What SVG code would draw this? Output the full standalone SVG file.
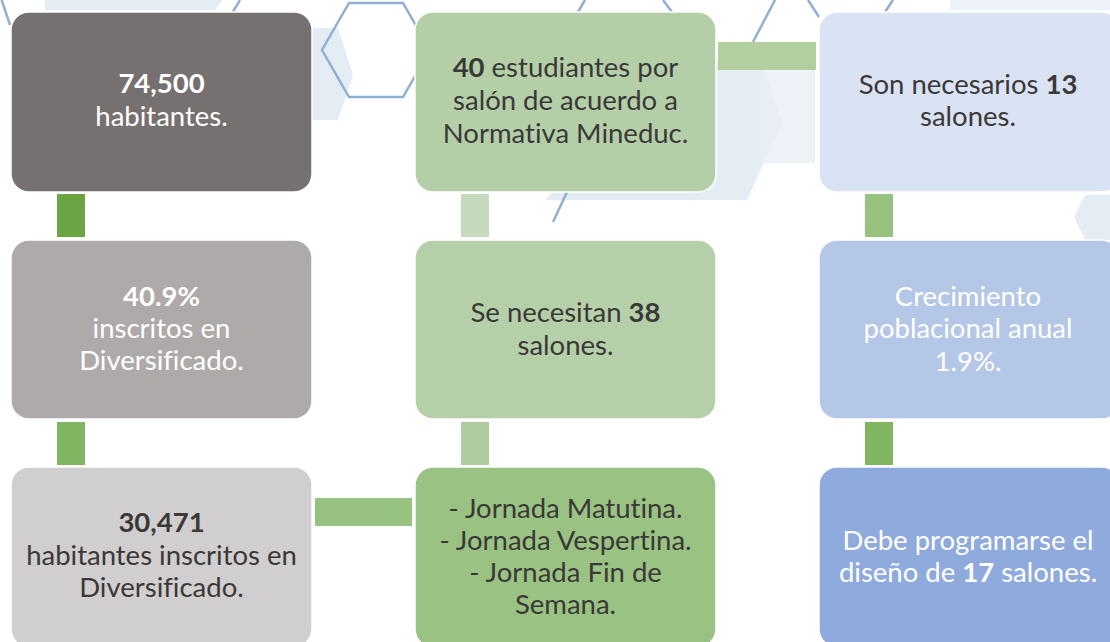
<svg xmlns="http://www.w3.org/2000/svg" width="1110" height="642" viewBox="0 0 1110 642">
<style>
.bg{fill:#ffffff}
.hf{fill:#d9e4f0;opacity:0.7}
.hf2{fill:#e8eef6;opacity:0.8}
.ho{fill:none;stroke:#8fb0d4;stroke-width:2.5}
.box{stroke:#ffffff;stroke-width:1.5}
.t{font-family:Lato,"Open Sans","Liberation Sans",sans-serif;font-size:27.5px;text-anchor:middle;font-variant-ligatures:none;font-feature-settings:"liga" 0,"clig" 0}
.w{fill:#ffffff}
.d{fill:#3b3838}
.b{font-weight:bold}
</style>
<rect class="bg" x="0" y="0" width="1110" height="642"/>
<g id="background">
  <polygon class="hf" points="45,-40 215,-40 230,-10 215,10 45,10"/>
  <polygon class="hf" points="300,28 338,28 353,75 338,120 300,120"/>
  <polygon class="hf" points="700,60 760,60 782,123 747,200 545,200 620,123"/>
  <polygon class="hf2" points="760,70 815,70 815,163 760,163"/>
  <polygon class="hf2" points="950,-20 1110,-20 1110,10 950,10"/>
  <polygon class="hf" points="1085,195 1110,195 1110,240 1085,240 1074,217"/>
  <polygon class="ho" points="349,3 403,3 430,50 403,97 349,97 322,50"/>
  <polyline class="ho" points="0,-5 10,25"/>
  <polyline class="ho" points="225,25 240,0"/>
  <polyline class="ho" points="753,42 775,0"/>
  <polyline class="ho" points="808,0 819,17"/>
  <polyline class="ho" points="893,0 885,12"/>
  <polyline class="ho" points="585,0 578,12"/>
  <polyline class="ho" points="663,0 672,12"/>
  <polyline class="ho" points="553,222 567,192"/>
</g>
<g id="connectors">
  <rect x="57" y="194" width="28" height="43" fill="#6aa443"/>
  <rect x="57" y="422" width="28" height="43" fill="#80b662"/>
  <rect x="461" y="194" width="28" height="43" fill="#c5d9be"/>
  <rect x="461" y="422" width="28" height="43" fill="#b0cc9f"/>
  <rect x="865" y="194" width="28" height="43" fill="#98c280"/>
  <rect x="865" y="422" width="28" height="43" fill="#80b662"/>
  <rect x="315" y="498" width="97" height="28" fill="#98c280"/>
  <rect x="718" y="42" width="98" height="28" fill="#b3cfa0"/>
</g>
<g id="n1">
  <rect class="box" x="11" y="12" width="301" height="180" rx="18" fill="#767170"/>
  <text class="t w"><tspan class="b" x="161.5" y="93">74,500</tspan><tspan x="161.5" y="126">habitantes.</tspan></text>
</g>
<g id="n2">
  <rect class="box" x="11" y="240" width="301" height="179" rx="18" fill="#aeaaa9"/>
  <text class="t w"><tspan class="b" x="161.5" y="306">40.9%</tspan><tspan x="161.5" y="338">inscritos en</tspan><tspan x="161.5" y="370">Diversificado.</tspan></text>
</g>
<g id="n3">
  <rect class="box" x="11" y="467" width="301" height="180" rx="18" fill="#d0cece"/>
  <text class="t d"><tspan class="b" x="161.5" y="532">30,471</tspan><tspan x="161.5" y="565">habitantes inscritos en</tspan><tspan x="161.5" y="597">Diversificado.</tspan></text>
</g>
<g id="n4">
  <rect class="box" x="415" y="12" width="301" height="180" rx="18" fill="#b4cfa8"/>
  <text class="t d"><tspan x="565.5" y="77"><tspan class="b">40</tspan> estudiantes por</tspan><tspan x="565.5" y="110">salón de acuerdo a</tspan><tspan x="565.5" y="143">Normativa Mineduc.</tspan></text>
</g>
<g id="n5">
  <rect class="box" x="415" y="240" width="301" height="179" rx="18" fill="#b5d0a9"/>
  <text class="t d"><tspan x="565.5" y="322">Se necesitan <tspan class="b">38</tspan></tspan><tspan x="565.5" y="355">salones.</tspan></text>
</g>
<g id="n6">
  <rect class="box" x="415" y="467" width="301" height="180" rx="18" fill="#9ac283"/>
  <text class="t d"><tspan x="565.5" y="518">- Jornada Matutina.</tspan><tspan x="565.5" y="550">- Jornada Vespertina.</tspan><tspan x="565.5" y="582">- Jornada Fin de</tspan><tspan x="565.5" y="614">Semana.</tspan></text>
</g>
<g id="n7">
  <rect class="box" x="819" y="12" width="301" height="180" rx="18" fill="#dae3f3"/>
  <text class="t d"><tspan x="968" y="94">Son necesarios <tspan class="b">13</tspan></tspan><tspan x="968" y="126">salones.</tspan></text>
</g>
<g id="n8">
  <rect class="box" x="819" y="240" width="301" height="179" rx="18" fill="#b4c7e7"/>
  <text class="t w"><tspan x="968" y="306">Crecimiento</tspan><tspan x="968" y="338">poblacional anual</tspan><tspan x="968" y="371">1.9%.</tspan></text>
</g>
<g id="n9">
  <rect class="box" x="819" y="467" width="301" height="180" rx="18" fill="#8faadc"/>
  <text class="t w"><tspan x="968" y="550">Debe programarse el</tspan><tspan x="968" y="582">diseño de <tspan class="b">17</tspan> salones.</tspan></text>
</g>
</svg>
